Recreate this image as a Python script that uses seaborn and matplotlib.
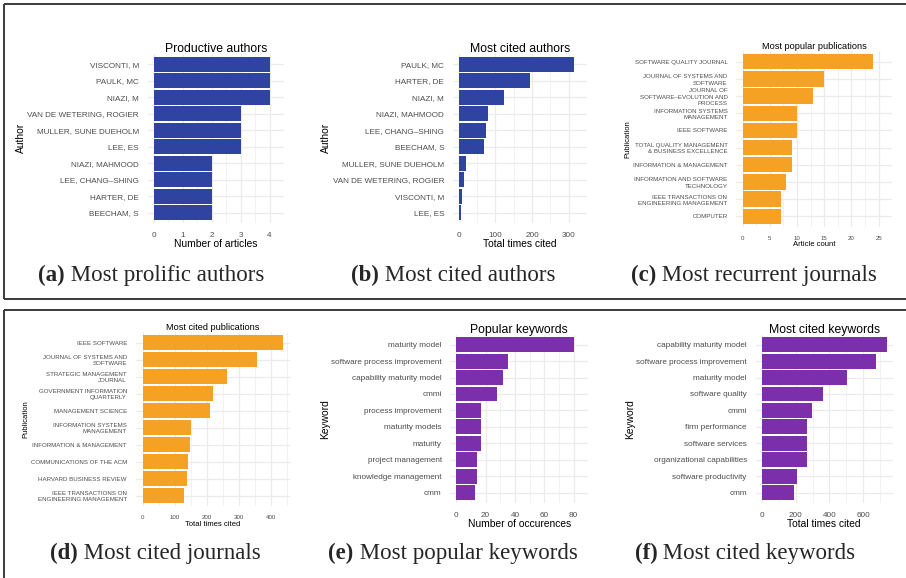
import matplotlib
matplotlib.use("Agg")
import matplotlib.pyplot as plt
import seaborn as sns
import pandas as pd
import numpy as np
from matplotlib.lines import Line2D

# ---- data -----------------------------------------------------------------
prolific_authors = ["VISCONTI, M", "PAULK, MC", "NIAZI, M", "VAN DE WETERING, ROGIER",
                    "MULLER, SUNE DUEHOLM", "LEE, ES", "NIAZI, MAHMOOD",
                    "LEE, CHANG–SHING", "HARTER, DE", "BEECHAM, S"]
prolific_counts = [4, 4, 4, 3, 3, 3, 2, 2, 2, 2]

cited_authors = ["PAULK, MC", "HARTER, DE", "NIAZI, M", "NIAZI, MAHMOOD",
                 "LEE, CHANG–SHING", "BEECHAM, S", "MULLER, SUNE DUEHOLM",
                 "VAN DE WETERING, ROGIER", "VISCONTI, M", "LEE, ES"]
cited_author_counts = [315, 195, 123, 81, 74, 68, 20, 15, 10, 5]

popular_journals = ["SOFTWARE QUALITY JOURNAL", "JOURNAL OF SYSTEMS AND\nSOFTWARE",
                    "JOURNAL OF\nSOFTWARE–EVOLUTION AND\nPROCESS",
                    "INFORMATION SYSTEMS\nMANAGEMENT", "IEEE SOFTWARE",
                    "TOTAL QUALITY MANAGEMENT\n& BUSINESS EXCELLENCE",
                    "INFORMATION & MANAGEMENT",
                    "INFORMATION AND SOFTWARE\nTECHNOLOGY",
                    "IEEE TRANSACTIONS ON\nENGINEERING MANAGEMENT", "COMPUTER"]
popular_journal_counts = [24, 15, 13, 10, 10, 9, 9, 8, 7, 7]

cited_journals = ["IEEE SOFTWARE", "JOURNAL OF SYSTEMS AND\nSOFTWARE",
                  "STRATEGIC MANAGEMENT\nJOURNAL", "GOVERNMENT INFORMATION\nQUARTERLY",
                  "MANAGEMENT SCIENCE", "INFORMATION SYSTEMS\nMANAGEMENT",
                  "INFORMATION & MANAGEMENT", "COMMUNICATIONS OF THE ACM",
                  "HARVARD BUSINESS REVIEW",
                  "IEEE TRANSACTIONS ON\nENGINEERING MANAGEMENT"]
cited_journal_counts = [437, 356, 262, 219, 210, 150, 147, 141, 137, 129]

popular_keywords = ["maturity model", "software process improvement",
                    "capability maturity model", "cmmi", "process improvement",
                    "maturity models", "maturity", "project management",
                    "knowledge management", "cmm"]
popular_keyword_counts = [80, 35, 32, 28, 17, 17, 17, 14, 14, 13]

cited_keywords = ["capability maturity model", "software process improvement",
                  "maturity model", "software quality", "cmmi", "firm performance",
                  "software services", "organizational capabilities",
                  "software productivity", "cmm"]
cited_keyword_counts = [737, 675, 502, 360, 297, 266, 266, 266, 207, 191]

captions = [("(a)", "Most prolific authors"), ("(b)", "Most cited authors"),
            ("(c)", "Most recurrent journals"), ("(d)", "Most cited journals"),
            ("(e)", "Most popular keywords"), ("(f)", "Most cited keywords")]

BLUE = "#2E44A0"
ORANGE = "#F5A124"
PURPLE = "#7B2FAB"

# ---- figure ---------------------------------------------------------------
W, H = 906, 578
sns.set_theme(style="white")
plt.rcParams["font.family"] = ["Liberation Sans", "DejaVu Sans"]
fig = plt.figure(figsize=(W / 100, H / 100), dpi=100)
fig.patch.set_facecolor("white")

GRID = "#EBEBEB"


def panel(rect, cats, vals, color, title, xlabel, ylabel, ticks, fs):
    left, right, top, bottom = rect
    ax = fig.add_axes([left / W, 1 - bottom / H, (right - left) / W, (bottom - top) / H])
    df = pd.DataFrame({"cat": cats, "val": vals})
    sns.barplot(data=df, x="val", y="cat", order=cats, color=color, saturation=1,
                width=0.9, linewidth=0, ax=ax)
    vmax = max(vals)
    ax.set_xlim(-0.05 * vmax, 1.05 * vmax)
    ax.set_ylim(len(cats) - 0.4, -0.6)
    ax.set_xticks(ticks)
    step = ticks[1] - ticks[0]
    ax.set_xticks([t + step / 2 for t in ticks], minor=True)
    ax.set_xticklabels([str(t) for t in ticks])
    ax.set_axisbelow(True)
    ax.grid(which="major", axis="x", color=GRID, lw=0.9)
    ax.grid(which="minor", axis="x", color=GRID, lw=0.45)
    ax.grid(which="major", axis="y", color=GRID, lw=0.9)
    for s in ax.spines.values():
        s.set_visible(False)
    tick_fs, lab_fs, tit_fs = fs
    ax.tick_params(axis="both", which="both", length=0, colors="#4D4D4D")
    ax.tick_params(axis="y", labelsize=tick_fs, pad=6.3)
    ax.tick_params(axis="x", labelsize=tick_fs, pad=6.5)
    for lab in ax.get_yticklabels():
        lab.set_linespacing(1.3)
    ax.set_xlabel(xlabel, fontsize=lab_fs, color="black", labelpad=0.5)
    ax.set_ylabel(ylabel, fontsize=lab_fs, color="black", labelpad=1)
    ax.set_title(title, fontsize=tit_fs, color="black", pad=1.5)
    return ax


BIG = (5.9, 7.4, 8.85)
SMALL = (4.4, 5.5, 6.6)

panel((147.8, 284.0, 54.2, 222.5), prolific_authors, prolific_counts, BLUE,
      "Productive authors", "Number of articles", "Author", [0, 1, 2, 3, 4], BIG)
panel((452.9, 587.2, 54.2, 222.5), cited_authors, cited_author_counts, BLUE,
      "Most cited authors", "Total times cited", "Author", [0, 100, 200, 300], BIG)
panel((736.2, 892.2, 51.4, 226.6), popular_journals, popular_journal_counts, ORANGE,
      "Most popular publications", "Article count", "Publication",
      [0, 5, 10, 15, 20, 25], SMALL)
panel((135.7, 289.5, 332.4, 505.9), cited_journals, cited_journal_counts, ORANGE,
      "Most cited publications", "Total times cited", "Publication",
      [0, 100, 200, 300, 400], SMALL)
panel((450.4, 588.3, 334.8, 502.5), popular_keywords, popular_keyword_counts, PURPLE,
      "Popular keywords", "Number of occurences", "Keyword", [0, 20, 40, 60, 80], BIG)
panel((755.5, 892.8, 334.8, 502.5), cited_keywords, cited_keyword_counts, PURPLE,
      "Most cited keywords", "Total times cited", "Keyword", [0, 200, 400, 600], BIG)

# ---- frames around the two rows ------------------------------------------
def px(x, y):
    return x / W, 1 - y / H

frame_kw = dict(color="#3A3A3A", lw=1.4, transform=fig.transFigure, solid_capstyle="butt")
for (x0, y0), (x1, y1) in [((3.5, 4), (906, 4)), ((3.5, 4), (3.5, 299)),
                           ((3.5, 299), (906, 299)), ((3.5, 310), (906, 310)),
                           ((3.5, 310), (3.5, 578))]:
    a, b = px(x0, y0)
    c, d = px(x1, y1)
    fig.add_artist(Line2D([a, c], [b, d], **frame_kw))

# ---- sub-figure captions ---------------------------------------------------
cap_pos = [(151, 275), (453, 275), (754, 275), (155, 553), (453, 553), (745, 553)]
serif = ["Liberation Serif", "DejaVu Serif"]
cap_fs = 16.5
fig.canvas.draw()
renderer = fig.canvas.get_renderer()
for (tag, text), (cx, cy) in zip(captions, cap_pos):
    t1 = fig.text(0, 0, tag, family=serif, weight="bold", fontsize=cap_fs, va="center")
    t2 = fig.text(0, 0, " " + text, family=serif, fontsize=cap_fs, va="center")
    w1 = t1.get_window_extent(renderer).width
    w2 = t2.get_window_extent(renderer).width
    x0 = cx - (w1 + w2) / 2
    t1.set_position((x0 / W, 1 - cy / H))
    t2.set_position(((x0 + w1) / W, 1 - cy / H))

fig.savefig("out.png", dpi=100)
